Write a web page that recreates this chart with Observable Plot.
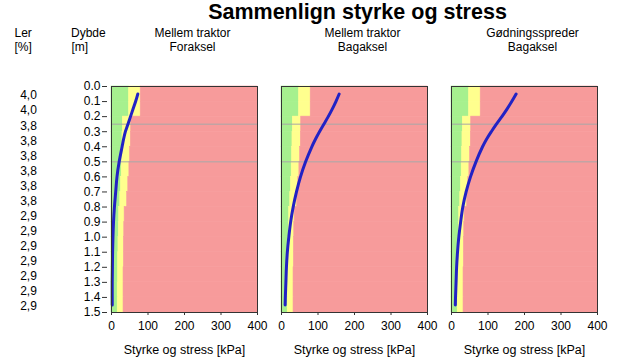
<!DOCTYPE html>
<html>
<head>
<meta charset="utf-8">
<script src="https://cdn.jsdelivr.net/npm/d3@7"></script>
<script src="https://cdn.jsdelivr.net/npm/@observablehq/plot@0.6"></script>
<style>
  html, body { margin: 0; padding: 0; background: #fff; overflow: hidden; }
  #title { font: bold 21.5px "Liberation Sans", Arial, sans-serif; height: 22px; line-height: 25px;
           text-align: center; width: 555px; padding-left: 80px; color: #000; overflow: visible; }
</style>
</head>
<body>
<div id="title">Sammenlign styrke og stress</div>
<div id="chart"></div>
<script>
// ---- data ----
const panelKeys = ["A", "B", "C"];
const headerLine1 = ["Mellem traktor", "Mellem traktor", "Gødningsspreder"];
const headerLine2 = ["Foraksel", "Bagaksel", "Bagaksel"];

// soil layers (0.1 m each)
const layerTop = [0.0, 0.1, 0.2, 0.3, 0.4, 0.5, 0.6, 0.7, 0.8, 0.9, 1.0, 1.1, 1.2, 1.3, 1.4];
const lerValues = ["4,0", "4,0", "3,8", "3,8", "3,8", "3,8", "3,8", "3,8", "2,9", "2,9", "2,9", "2,9", "2,9", "2,9", "2,9"];
const greenLimit = [48, 48, 31, 30, 29, 28, 26, 24, 21, 20, 19, 18, 18, 17, 17];
const yellowLimit = [80, 80, 54, 53, 51, 49, 46, 43, 36, 35, 34, 34, 33, 33, 33];

// stress curves
const curveDepth = [0.05, 0.1, 0.15, 0.2, 0.25, 0.3, 0.35, 0.4, 0.5, 0.6, 0.7, 0.8, 0.9, 1.0, 1.1, 1.2, 1.3, 1.4, 1.45];
const stressA = [72, 66, 59, 52, 45, 38, 33, 29, 21, 15, 11.5, 8, 5.5, 4, 3, 2.5, 2, 2, 2];
const stressB = [158, 149, 139, 128, 116, 104, 93, 83, 66, 52, 41, 32, 25, 20, 16, 13.5, 12, 10.5, 10];
const stressC = [177, 165, 152, 138, 123, 109, 96, 85, 67, 52, 40, 31, 25, 20, 16.5, 14, 12.5, 11, 10.5];

const refDepths = [0.25, 0.5];
const xTicks = [0, 100, 200, 300, 400];
const yTicks = [0.0, 0.1, 0.2, 0.3, 0.4, 0.5, 0.6, 0.7, 0.8, 0.9, 1.0, 1.1, 1.2, 1.3, 1.4, 1.5];
const xMax = 400;
const zoneNames = ["under", "grænse", "over"];
const zoneColors = ["#a6f08e", "#ffff8e", "#f79b9b"];

// ---- tables built from the arrays ----
const zones = [];
for (const p of panelKeys) {
  layerTop.forEach((t, i) => {
    const b = t + 0.1;
    zones.push({panel: p, zone: zoneNames[0], x1: 0, x2: greenLimit[i], y1: t, y2: b});
    zones.push({panel: p, zone: zoneNames[1], x1: greenLimit[i], x2: yellowLimit[i], y1: t, y2: b});
    zones.push({panel: p, zone: zoneNames[2], x1: yellowLimit[i], x2: xMax, y1: t, y2: b});
  });
}
const stressSeries = [stressA, stressB, stressC];
const curves = [];
panelKeys.forEach((p, j) => curveDepth.forEach((d, i) => curves.push({panel: p, depth: d, stress: stressSeries[j][i]})));
const lerRows = layerTop.map((t, i) => ({depth: t + 0.05, text: lerValues[i]}));

const font = "'Liberation Sans', Arial, sans-serif";
const first = () => panelKeys[0];

const chart = Plot.plot({
  width: 635,
  height: 339,
  marginLeft: 110,
  marginRight: 36,
  marginTop: 64,
  marginBottom: 49,
  fx: {domain: panelKeys, paddingInner: 0.14, paddingOuter: 0, axis: null},
  x: {domain: [0, xMax]},
  y: {domain: [0, 1.5], reverse: true},
  color: {type: "ordinal", domain: zoneNames, range: zoneColors},
  style: {fontFamily: font, fontSize: "12px", color: "#000", background: "#fff"},
  marks: [
    Plot.rect(zones, {fx: "panel", x1: "x1", x2: "x2", y1: "y1", y2: "y2", fill: "zone", stroke: "zone", strokeWidth: 0.6}),
    Plot.ruleY(refDepths, {stroke: "#a8a8a8", strokeWidth: 1}),
    Plot.line(curves, {fx: "panel", x: "stress", y: "depth", stroke: "#2222c4", strokeWidth: 3, curve: "catmull-rom", strokeLinecap: "round"}),
    Plot.frame({stroke: "#333", strokeWidth: 1}),
    Plot.axisY({ticks: yTicks, tickFormat: d => d.toFixed(1), tickSize: 5, tickPadding: 2, dx: -4, label: null, stroke: "#333"}),
    Plot.axisX({ticks: xTicks, tickSize: 3, tickPadding: 6, label: null, stroke: "#333"}),
    // panel headers
    Plot.text(panelKeys, {fx: d => d, text: (d, i) => headerLine1[i], frameAnchor: "top", dy: -53.3, dx: 8, lineAnchor: "middle", fontSize: 12}),
    Plot.text(panelKeys, {fx: d => d, text: (d, i) => headerLine2[i], frameAnchor: "top", dy: -39.3, dx: 8, lineAnchor: "middle", fontSize: 12}),
    // x labels
    Plot.text(panelKeys, {fx: d => d, text: () => "Styrke og stress [kPa]", frameAnchor: "bottom", dy: 37, lineAnchor: "middle", fontSize: 12.5}),
    // Ler & Dybde headers
    Plot.text(["Ler"], {fx: first, text: d => d, frameAnchor: "top-left", textAnchor: "start", lineAnchor: "middle", dx: -97, dy: -53.3}),
    Plot.text(["[%]"], {fx: first, text: d => d, frameAnchor: "top-left", textAnchor: "start", lineAnchor: "middle", dx: -97, dy: -39.3}),
    Plot.text(["Dybde"], {fx: first, text: d => d, frameAnchor: "top-left", textAnchor: "start", lineAnchor: "middle", dx: -40.5, dy: -53.3}),
    Plot.text(["[m]"], {fx: first, text: d => d, frameAnchor: "top-left", textAnchor: "start", lineAnchor: "middle", dx: -40, dy: -39.3}),
    // Ler values
    Plot.text(lerRows, {fx: first, y: "depth", text: "text", frameAnchor: "left", textAnchor: "middle", dx: -83, dy: 1.5})
  ]
});
document.getElementById("chart").appendChild(chart);
</script>
</body>
</html>
